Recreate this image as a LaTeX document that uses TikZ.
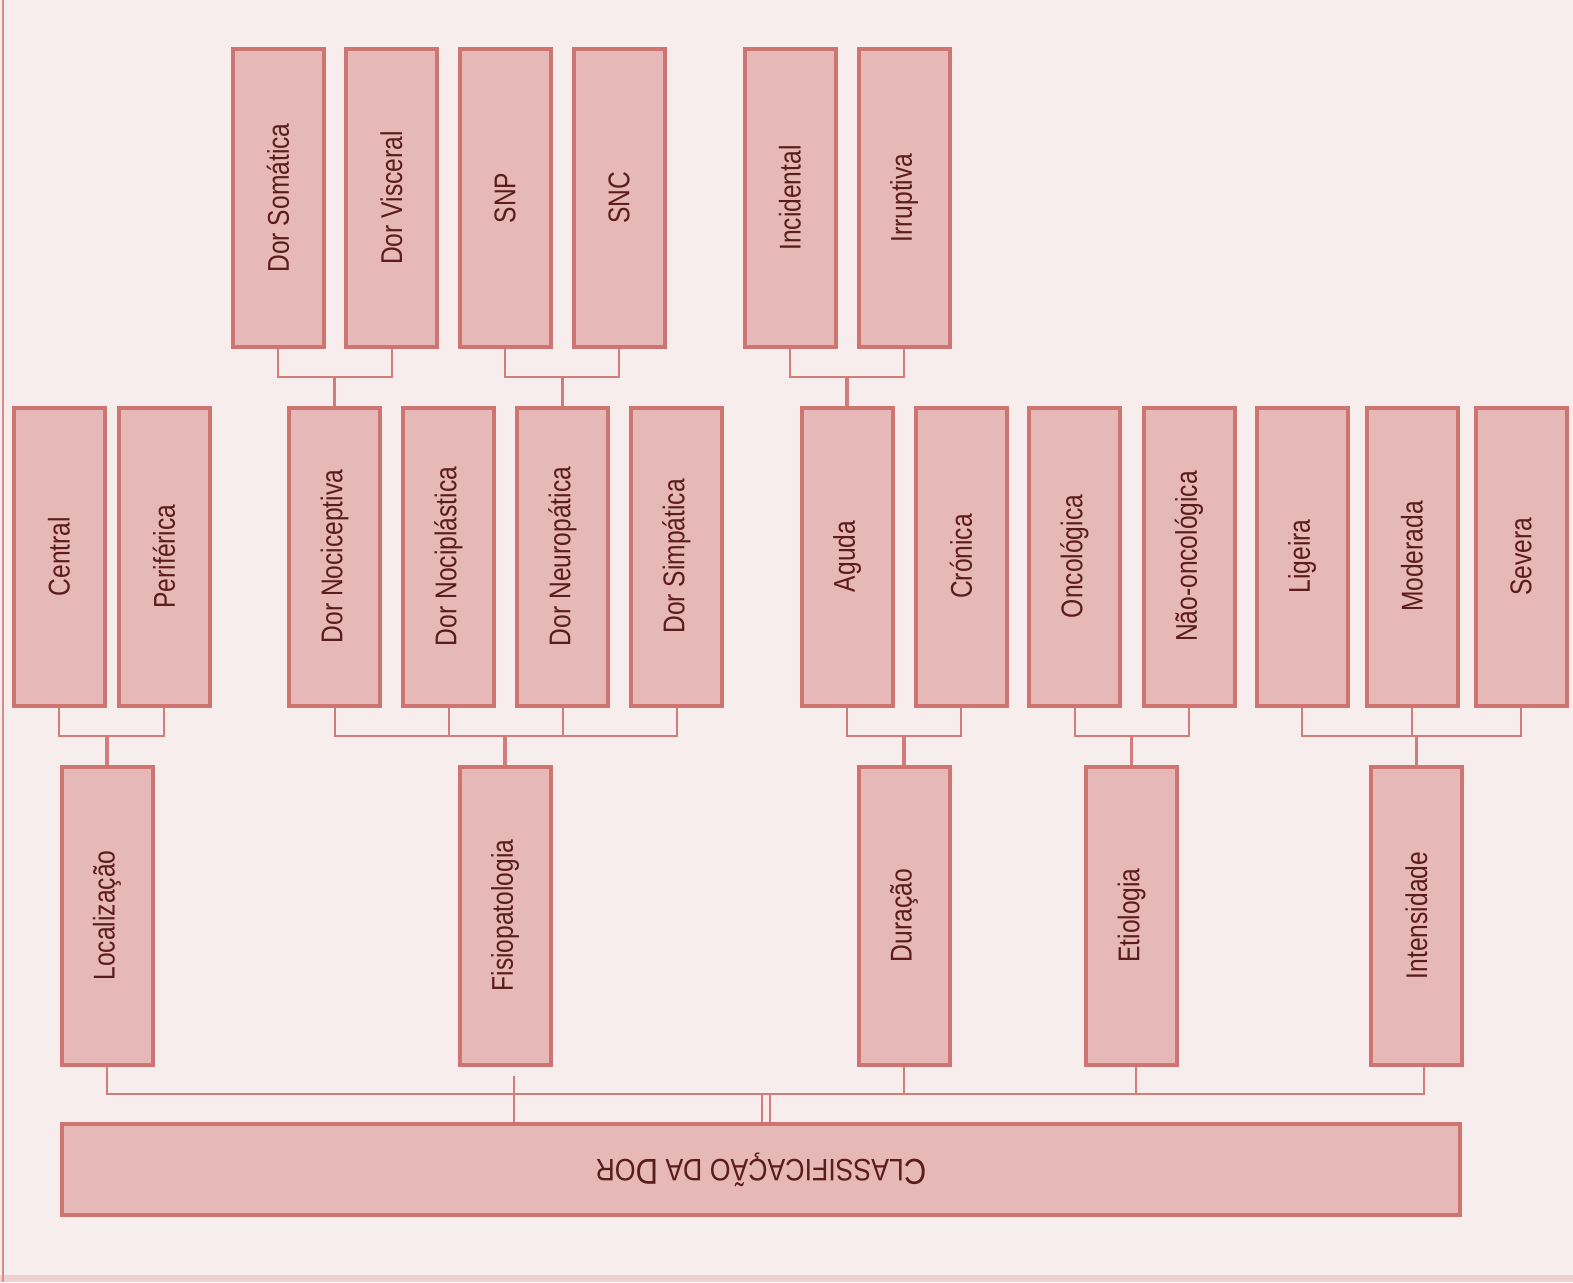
\documentclass[tikz,border=0pt]{standalone}
\usepackage{fontspec}
\setmainfont{Liberation Sans}[FakeStretch=0.82]
\newfontfamily\titlefont{Liberation Sans}[FakeStretch=0.86]
\definecolor{bgc}{HTML}{F7EDEC}
\definecolor{boxc}{HTML}{E6B8B7}
\definecolor{bordc}{HTML}{CF7571}
\definecolor{linec}{HTML}{D27D7A}
\definecolor{txtc}{HTML}{5A1C1C}
\definecolor{edgec}{HTML}{D98C89}
\definecolor{bandc}{HTML}{EFD2CF}
\begin{document}
\begin{tikzpicture}[x=1pt,y=-1pt,
  box/.style={draw=bordc, fill=boxc, line width=4pt, minimum width=91pt,
    minimum height=298pt, inner sep=0pt, text=txtc,
    font=\fontsize{30}{36}\selectfont},
  conn/.style={draw=linec, line width=2pt},
  stem/.style={draw=linec, line width=3.5pt}]
\useasboundingbox (0,0) rectangle (1573,1282);
\fill[bgc] (0,0) rectangle (1573,1282);
\fill[bandc] (0,1275) rectangle (1573,1282);
\draw[edgec, line width=2pt] (2.5,0) -- (2.5,1282);

% level coordinates
\coordinate (lvA) at (0,377);
\coordinate (lvB) at (0,735.5);
\coordinate (lvC) at (0,1094);
\coordinate (fb) at (514,1076);

% top row
\node[box] (som) at (278,198) {\rotatebox{90}{Dor Somática}};
\node[box] (vis) at (391.5,198) {\rotatebox{90}{Dor Visceral}};
\node[box] (snp) at (505,198) {\rotatebox{90}{SNP}};
\node[box] (snc) at (619,198) {\rotatebox{90}{SNC}};
\node[box] (inc) at (790,198) {\rotatebox{90}{Incidental}};
\node[box] (irr) at (904,198) {\rotatebox{90}{Irruptiva}};

% middle row
\node[box] (cen) at (59,556.5) {\rotatebox{90}{Central}};
\node[box] (per) at (164,556.5) {\rotatebox{90}{Periférica}};
\node[box] (noc) at (334.5,556.5) {\rotatebox{90}{Dor Nociceptiva}};
\node[box] (nop) at (448.5,556.5) {\rotatebox{90}{Dor Nociplástica}};
\node[box] (neu) at (562.5,556.5) {\rotatebox{90}{Dor Neuropática}};
\node[box] (sim) at (676.5,556.5) {\rotatebox{90}{Dor Simpática}};
\node[box] (agu) at (847,556.5) {\rotatebox{90}{Aguda}};
\node[box] (cro) at (961,556.5) {\rotatebox{90}{Crónica}};
\node[box] (onc) at (1074.5,556.5) {\rotatebox{90}{Oncológica}};
\node[box] (nao) at (1189,556.5) {\rotatebox{90}{Não-oncológica}};
\node[box] (lig) at (1302,556.5) {\rotatebox{90}{Ligeira}};
\node[box] (mod) at (1412,556.5) {\rotatebox{90}{Moderada}};
\node[box] (sev) at (1521,556.5) {\rotatebox{90}{Severa}};

% lower row
\node[box] (loc) at (107,915.5) {\rotatebox{90}{Localização}};
\node[box] (fis) at (505,915.5) {\rotatebox{90}{Fisiopatologia}};
\node[box] (dur) at (904,915.5) {\rotatebox{90}{Duração}};
\node[box] (eti) at (1131.5,915.5) {\rotatebox{90}{Etiologia}};
\node[box] (int) at (1416.5,915.5) {\rotatebox{90}{Intensidade}};

% title
\node[box, minimum width=1398pt, minimum height=91pt] (ttl) at (761,1169.5)
  {\titlefont\rotatebox{180}{{\fontsize{36}{40}\selectfont C}{\fontsize{31}{36}\selectfont LASSIFICAÇÃO DA }{\fontsize{36}{40}\selectfont D}{\fontsize{31}{36}\selectfont OR}}};

% top groups
\draw[conn] (som.south) |- (noc.north |- lvA) -| (vis.south);
\draw[stem] (noc.north |- lvA) -- (noc.north);
\draw[conn] (snp.south) |- (neu.north |- lvA) -| (snc.south);
\draw[stem] (neu.north |- lvA) -- (neu.north);
\draw[conn] (inc.south) |- (agu.north |- lvA) -| (irr.south);
\draw[stem] (agu.north |- lvA) -- (agu.north);

% middle groups
\draw[conn] (cen.south) |- (loc.north |- lvB) -| (per.south);
\draw[stem] (loc.north |- lvB) -- (loc.north);
\draw[conn] (noc.south) |- (sim.south |- lvB) -- (sim.south);
\draw[conn] (nop.south) -- (nop.south |- lvB);
\draw[conn] (neu.south) -- (neu.south |- lvB);
\draw[stem] (fis.north |- lvB) -- (fis.north);
\draw[conn] (agu.south) |- (dur.north |- lvB) -| (cro.south);
\draw[stem] (dur.north |- lvB) -- (dur.north);
\draw[conn] (onc.south) |- (eti.north |- lvB) -| (nao.south);
\draw[stem] (eti.north |- lvB) -- (eti.north);
\draw[conn] (lig.south) |- (sev.south |- lvB) -- (sev.south);
\draw[conn] (mod.south) -- (mod.south |- lvB);
\draw[stem] (int.north |- lvB) -- (int.north);

% bottom
\draw[conn] (loc.south) |- ([xshift=7.5pt]int.south |- lvC) -- ([xshift=7.5pt]int.south);
\draw[conn] (dur.south) -- (dur.south |- lvC);
\draw[conn] ([xshift=4.5pt]eti.south) -- ([xshift=4.5pt]eti.south |- lvC);
\draw[conn] (fb) -- (fb |- ttl.north);
\draw[conn] ([xshift=1pt]ttl.north) -- ([xshift=1pt]ttl.north |- lvC);
\draw[conn] ([xshift=9pt]ttl.north) -- ([xshift=9pt]ttl.north |- lvC);
\end{tikzpicture}
\end{document}
